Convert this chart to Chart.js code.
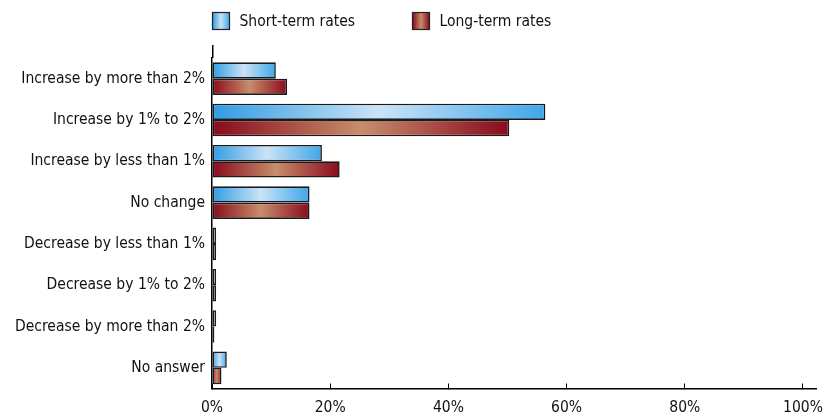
<!DOCTYPE html>
<html>
<head>
<meta charset="utf-8">
<script src="https://cdn.jsdelivr.net/npm/chart.js@4.4.1/dist/chart.umd.min.js"></script>
<style>
  html, body { margin: 0; padding: 0; background: #ffffff; }
  #wrap { width: 825px; height: 420px; position: relative; }
</style>
</head>
<body>
<div id="wrap"><canvas id="chartContainer"></canvas></div>
<script>
// données (en %)
var categories = [
    'Increase by more than 2%',
    'Increase by 1% to 2%',
    'Increase by less than 1%',
    'No change',
    'Decrease by less than 1%',
    'Decrease by 1% to 2%',
    'Decrease by more than 2%',
    'No answer'
];
var seriesNames = ['Short-term rates', 'Long-term rates'];
var shortTerm = [10.8, 56.4, 18.6, 16.5, 0.7, 0.7, 0.7, 2.5];
var longTerm = [12.7, 50.3, 21.6, 16.5, 0.7, 0.7, 0.4, 1.6];
var tickValues = [0, 20, 40, 60, 80, 100];

var FONT = "'DejaVu Sans Condensed', 'Liberation Sans Narrow', sans-serif";
var FONT_SIZE = 15.5;

// couleurs des dégradés (bord, centre clair, bord)
var blueStops = [[0, '#2f9be3'], [0.5, '#cbe3f7'], [1, '#3fa6e9']];
var redStops = [[0, '#870a1c'], [0.5, '#c88d6b'], [1, '#880a1e']];

function makeGradient(ctx, x0, x1, stops) {
    var g = ctx.createLinearGradient(x0, 0, x1, 0);
    stops.forEach(function(s) { g.addColorStop(s[0], s[1]); });
    return g;
}

// dégradé horizontal calé sur chaque barre
function barFill(stops) {
    return function(c) {
        if (c.type !== 'data') return stops[1][1];
        var xs = c.chart.scales.x;
        if (!xs) return stops[1][1];
        var x0 = xs.getPixelForValue(0);
        var x1 = xs.getPixelForValue(c.raw);
        if (!isFinite(x0) || !isFinite(x1)) return stops[1][1];
        if (x1 - x0 < 1) x1 = x0 + 1;
        return makeGradient(c.chart.ctx, x0, x1, stops);
    };
}

// prolonge l'axe Y au-dessus de la zone du graphique + légende maison
var extrasPlugin = {
    id: 'extras',
    afterDraw: function(chart) {
        var ctx = chart.ctx;
        var a = chart.chartArea;
        ctx.save();
        ctx.strokeStyle = '#000';
        ctx.lineWidth = 1.5;
        ctx.beginPath();
        ctx.moveTo(a.left + 0.75, a.top - 13);
        ctx.lineTo(a.left + 0.75, a.top);
        ctx.stroke();

        // légende
        var stopsList = [blueStops, redStops];
        var boxSize = 17;
        var itemStep = 200;
        ctx.font = FONT_SIZE + 'px ' + FONT;
        ctx.textBaseline = 'middle';
        chart.data.datasets.forEach(function(ds, i) {
            var bx = a.left + 0.5 + i * itemStep;
            var by = 12.5;
            ctx.fillStyle = makeGradient(ctx, bx, bx + boxSize, stopsList[i]);
            ctx.fillRect(bx, by, boxSize, boxSize);
            ctx.strokeStyle = '#222';
            ctx.lineWidth = 1.2;
            ctx.strokeRect(bx, by, boxSize, boxSize);
            ctx.fillStyle = '#111';
            ctx.fillText(ds.label, bx + boxSize + 10, by + boxSize / 2 + 1);
        });
        ctx.restore();
    }
};

var ctx = document.getElementById('chartContainer').getContext('2d');
ctx.chart = new Chart(ctx, {
    type: 'bar',
    data: {
        labels: categories,
        datasets: [{
            label: seriesNames[0],
            data: shortTerm,
            backgroundColor: barFill(blueStops),
            borderColor: '#1a1a1a',
            borderWidth: 1.6,
            borderSkipped: false,
            categoryPercentage: 0.79,
            barPercentage: 1.0
        }, {
            label: seriesNames[1],
            data: longTerm,
            backgroundColor: barFill(redStops),
            borderColor: '#1a1a1a',
            borderWidth: 1.6,
            borderSkipped: false,
            categoryPercentage: 0.79,
            barPercentage: 1.0
        }]
    },
    options: {
        indexAxis: 'y',
        responsive: true,
        maintainAspectRatio: false,
        animation: false,
        layout: {
            padding: { top: 58, right: 9, bottom: 0, left: 0 }
        },
        plugins: {
            legend: { display: false },
            tooltip: { enabled: false }
        },
        scales: {
            x: {
                min: 0,
                max: 102.2,
                afterBuildTicks: function(scale) {
                    scale.ticks = tickValues.map(function(v) { return { value: v }; });
                },
                afterFit: function(scale) {
                    scale.height = 31.5;
                    scale.paddingLeft = 0;
                    scale.paddingRight = 0;
                },
                ticks: {
                    callback: function(v) { return v + '%'; },
                    color: '#111',
                    padding: 15,
                    maxRotation: 0,
                    font: { family: FONT, size: FONT_SIZE }
                },
                grid: {
                    display: true,
                    drawOnChartArea: false,
                    drawTicks: true,
                    tickLength: -5,
                    color: '#000',
                    lineWidth: 1
                },
                border: { display: true, color: '#000', width: 1.5 }
            },
            y: {
                afterFit: function(scale) { scale.width = 212; },
                ticks: {
                    color: '#111',
                    padding: 7,
                    font: { family: FONT, size: FONT_SIZE }
                },
                grid: { display: false, drawTicks: false },
                border: { display: true, color: '#000', width: 1.5 }
            }
        }
    },
    plugins: [extrasPlugin]
});
</script>
</body>
</html>
